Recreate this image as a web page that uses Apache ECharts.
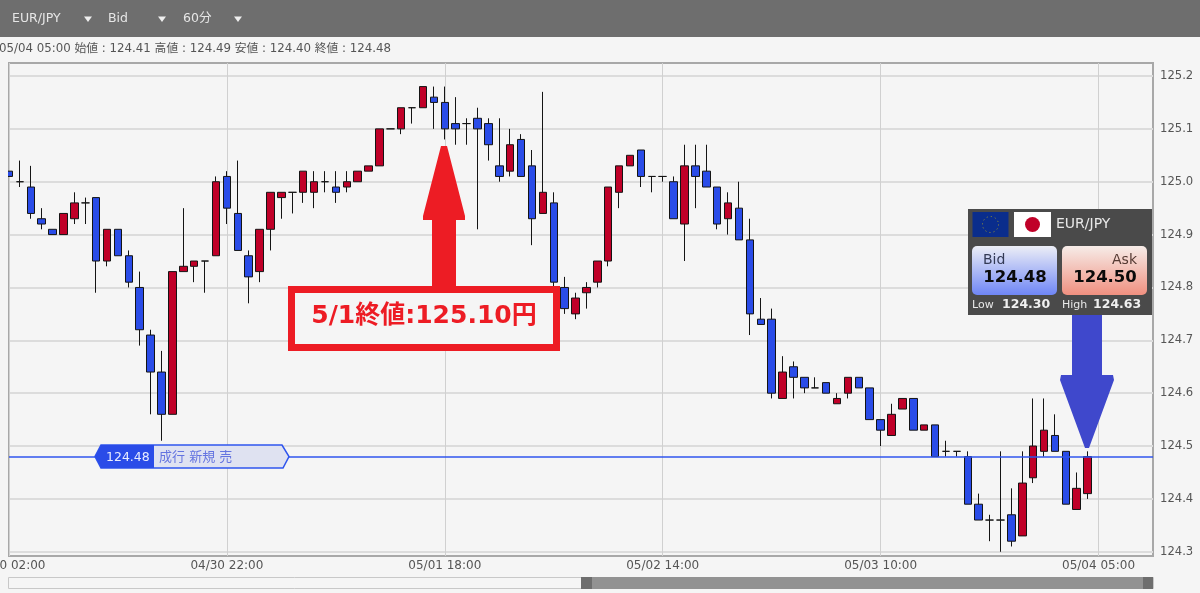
<!DOCTYPE html>
<html><head><meta charset="utf-8">
<style>html,body{margin:0;padding:0;background:#f5f5f5;overflow:hidden}#c{width:1200px;height:593px}</style>
<script src="https://cdn.jsdelivr.net/npm/echarts@6/dist/echarts.min.js"></script>
</head><body><div id="c"></div>
<script>
const opens=[125.02,125.00,124.99,124.93,124.91,124.90,124.93,124.96,124.97,124.85,124.91,124.86,124.80,124.71,124.64,124.56,124.83,124.84,124.85,124.86,
125.01,124.94,124.86,124.83,124.91,124.97,124.98,124.98,124.98,125.00,124.99,124.99,125.00,125.02,125.03,125.10,125.10,125.14,125.14,125.16,
125.15,125.11,125.11,125.12,125.11,125.03,125.02,125.08,125.03,124.94,124.96,124.80,124.75,124.79,124.81,124.85,124.98,125.03,125.06,125.01,
125.01,125.00,124.92,125.03,125.02,124.99,124.93,124.95,124.89,124.74,124.74,124.59,124.65,124.63,124.61,124.62,124.58,124.60,124.63,124.61,
124.55,124.52,124.57,124.59,124.53,124.54,124.49,124.49,124.48,124.39,124.36,124.36,124.37,124.33,124.44,124.49,124.52,124.49,124.38,124.41];
const closes=[125.01,125.00,124.94,124.92,124.90,124.94,124.96,124.96,124.85,124.91,124.86,124.81,124.72,124.64,124.56,124.83,124.84,124.85,124.85,125.00,
124.95,124.87,124.82,124.91,124.98,124.98,124.98,125.02,125.00,125.00,124.98,125.00,125.02,125.03,125.10,125.10,125.14,125.14,125.18,125.15,
125.10,125.10,125.11,125.10,125.07,125.01,125.07,125.01,124.93,124.98,124.81,124.76,124.78,124.80,124.85,124.99,125.03,125.05,125.01,125.01,
125.01,124.93,125.03,125.01,124.99,124.92,124.96,124.89,124.75,124.73,124.60,124.64,124.63,124.61,124.61,124.60,124.59,124.63,124.61,124.55,
124.53,124.56,124.59,124.53,124.54,124.48,124.49,124.49,124.39,124.36,124.36,124.36,124.32,124.43,124.50,124.53,124.49,124.39,124.42,124.48];
const lows=[125.01,124.99,124.93,124.91,124.90,124.90,124.92,124.92,124.79,124.84,124.86,124.80,124.69,124.56,124.51,124.56,124.83,124.81,124.79,124.86,
124.92,124.87,124.77,124.81,124.87,124.93,124.94,124.96,124.95,124.98,124.96,124.98,125.00,125.02,125.03,125.10,125.09,125.11,125.14,125.10,
125.08,125.07,125.07,124.91,125.04,125.00,125.01,125.01,124.88,124.94,124.80,124.75,124.74,124.76,124.80,124.84,124.95,125.03,124.99,124.98,
125.00,124.93,124.85,124.95,124.99,124.91,124.90,124.89,124.71,124.73,124.59,124.59,124.59,124.60,124.61,124.60,124.58,124.59,124.61,124.55,
124.50,124.52,124.57,124.53,124.53,124.48,124.48,124.48,124.39,124.36,124.32,124.30,124.31,124.33,124.43,124.48,124.49,124.39,124.38,124.40];
const highs=[125.02,125.04,125.03,124.95,124.91,124.94,124.98,124.97,124.97,124.91,124.91,124.87,124.83,124.72,124.68,124.83,124.95,124.85,124.85,125.01,
125.02,125.04,124.87,124.91,124.98,124.98,124.98,125.02,125.02,125.02,125.02,125.02,125.02,125.03,125.10,125.10,125.14,125.14,125.18,125.18,
125.18,125.16,125.12,125.14,125.12,125.12,125.10,125.09,125.06,125.17,124.98,124.82,124.79,124.81,124.85,124.99,125.03,125.05,125.06,125.01,
125.01,125.01,125.07,125.07,125.07,124.99,124.98,125.00,124.93,124.78,124.76,124.67,124.66,124.63,124.63,124.62,124.60,124.63,124.63,124.61,
124.55,124.58,124.59,124.59,124.54,124.54,124.51,124.49,124.49,124.41,124.37,124.49,124.42,124.49,124.59,124.59,124.56,124.49,124.45,124.49];
const xTickLabels=['04/30 02:00','04/30 22:00','05/01 18:00','05/02 14:00','05/03 10:00','05/04 05:00'];
const yTicks=[124.3,124.4,124.5,124.6,124.7,124.8,124.9,125.0,125.1,125.2];
const currentBid=124.48;
const slotCount=106, labelEvery=20;
const categories=[];
for(let i=0;i<slotCount;i++){categories.push(i%labelEvery===0?xTickLabels[i/labelEvery]:'#'+i);}
const candles=opens.map((o,i)=>[o,closes[i],lows[i],highs[i]]);
const F='"DejaVu Sans","Noto Sans CJK JP",sans-serif';
const BLUE='#2a4ce8',RED='#c00028',ARED='#ed1c24',ABLUE='#3f48cc';
const txt=(x,y,text,size,fill,extra)=>({type:'text',z:50,style:Object.assign({x,y,text,font:(extra&&extra.weight?extra.weight+' ':'')+size+'px '+F,fill,textVerticalAlign:'middle',textAlign:(extra&&extra.align)||'left'})});
const tri=(x,y)=>({type:'polygon',z:50,shape:{points:[[x-4,y-2.5],[x+4,y-2.5],[x,y+3]]},style:{fill:'#eeeeee'}});
const rect=(x,y,w,h,fill,r,stroke)=>({type:'rect',z:40,shape:{x,y,width:w,height:h,r:r||0},style:{fill,stroke:stroke||null,lineWidth:stroke?1:0}});
const grad=(a,b)=>({type:'linear',x:0,y:0,x2:0,y2:1,colorStops:[{offset:0,color:a},{offset:1,color:b}]});
const graphics=[
 rect(0,62,8,495,'#f5f5f5'),
 rect(0,0,1200,37,'#6e6e6e'),
 txt(12,19,'EUR/JPY',12.5,'#e6e6e6'),tri(88,19),
 txt(108,19,'Bid',12.5,'#e6e6e6'),tri(162,19),
 txt(183,19,'60分',12.5,'#e6e6e6'),tri(238,19),
 txt(-1,49,'05/04 05:00 始値 : 124.41 高値 : 124.49 安値 : 124.40 終値 : 124.48',11.8,'#555555'),
 {type:'polygon',z:40,shape:{points:[[101,445],[282,445],[289,456.5],[283,468],[101,468],[95,456.5]]},style:{fill:'#dfe2f1',stroke:'#2f55ee',lineWidth:1.5}},
 {type:'polygon',z:41,shape:{points:[[101,445],[154,445],[154,468],[101,468],[95,456.5]]},style:{fill:BLUE}},
 txt(106,457.5,'124.48',12.5,'#e8ecff'),
 txt(159,458,'成行 新規 売',13,'#6474e0'),
 {type:'polygon',z:40,shape:{points:[[441,146],[447,146],[465,216],[465,220],[456,220],[456,290],[432,290],[432,220],[423,220],[423,216]]},style:{fill:ARED}},
 {type:'rect',z:41,shape:{x:291.5,y:289.5,width:265,height:58},style:{fill:'#f5f5f5',stroke:ARED,lineWidth:7}},
 txt(424,316,'5/1終値:125.10円',25,ARED,{weight:'bold',align:'center'}),
 {type:'polygon',z:40,shape:{points:[[1072,310],[1102,310],[1102,375],[1113,375],[1114,380],[1089,448],[1085,448],[1060,380],[1061,375],[1072,375]]},style:{fill:ABLUE}},
 rect(968,209,184,106,'#4a4a4a'),
 rect(972.5,212,36,25,'#0a2d8c'),
 {type:'circle',z:41,shape:{cx:990.5,cy:224.5,r:8},style:{fill:'none',stroke:'#a09a30',lineWidth:1,lineDash:[1,3.2]}},
 rect(1014,212,37,25,'#ffffff'),
 {type:'circle',z:41,shape:{cx:1032.5,cy:224.5,r:7.5},style:{fill:'#c00028'}},
 txt(1056,224,'EUR/JPY',14,'#e8e8e8'),
 rect(972,246,85,49,grad('#eceef6','#6f86f6'),5),
 rect(1062,246,85,49,grad('#f6ece8','#f09080'),5),
 txt(983,260,'Bid',14,'#333a55'),
 txt(1137,260,'Ask',14,'#553a33',{align:'right'}),
 txt(1015,278,'124.48',16.5,'#0a0a0a',{weight:'bold',align:'center'}),
 txt(1105,278,'124.50',16.5,'#0a0a0a',{weight:'bold',align:'center'}),
 txt(972,305,'Low',11,'#e8e8e8'),
 txt(1002,305,'124.30',12.5,'#f0f0f0',{weight:'bold'}),
 txt(1062,305,'High',11,'#e8e8e8'),
 txt(1093,305,'124.63',12.5,'#f0f0f0',{weight:'bold'}),
 rect(8.5,577.5,1145,11,'#f5f5f5',0,'#c8c8c8'),
 rect(581,577,572,12,'#929292'),
 rect(581,577,11,12,'#6e6e6e'),
 rect(1143,577,10,12,'#6e6e6e')
];
const chart=echarts.init(document.getElementById('c'),null,{renderer:'canvas'});
chart.setOption({
 animation:false,backgroundColor:'#f5f5f5',
 textStyle:{fontFamily:F},
 grid:{left:9,top:63,width:1144,height:493,show:true,borderColor:'#a8a8a8',borderWidth:2,backgroundColor:'#f5f5f5',containLabel:false,outerBoundsMode:'none'},
 xAxis:{type:'category',data:categories,boundaryGap:false,
  axisLine:{show:false},axisTick:{show:false},
  axisLabel:{interval:labelEvery-1,showMinLabel:true,color:'#555555',fontSize:12,margin:4,fontFamily:F,hideOverlap:false},
  splitLine:{show:true,interval:labelEvery-1,lineStyle:{color:'#d0d0d0',width:1}}},
 yAxis:{type:'value',position:'right',min:124.292,max:125.2246,
  axisLine:{show:false},axisTick:{show:false,customValues:yTicks},
  axisLabel:{customValues:yTicks,color:'#555555',fontSize:11.6,margin:7,padding:[3,0,0,0],fontFamily:F,formatter:v=>v.toFixed(1)},
  splitLine:{show:true,lineStyle:{color:'#dcdcdc',width:2}}},
 series:[{type:'candlestick',data:candles,barWidth:8,clip:true,
  itemStyle:{color:RED,color0:BLUE,borderColor:'#141414',borderColor0:'#141414',borderColorDoji:'#141414',borderWidth:1},
  markLine:{silent:true,symbol:'none',animation:false,label:{show:false},
   lineStyle:{color:'#2f55ee',width:1.5,type:'solid'},data:[{yAxis:currentBid}]}
 }],
 graphic:graphics
});
</script></body></html>
